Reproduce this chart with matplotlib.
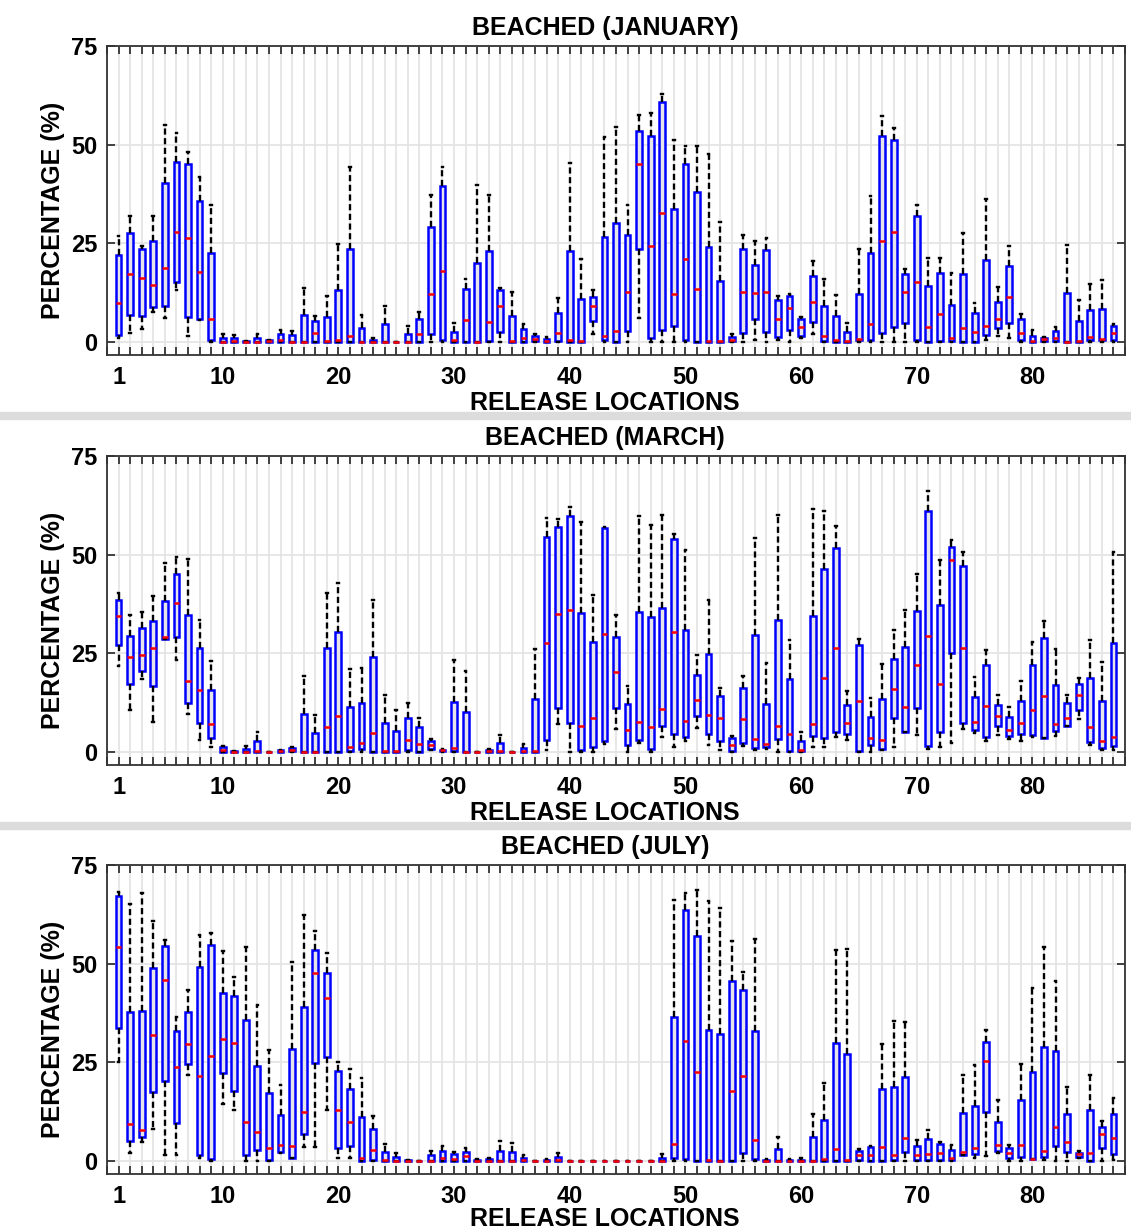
import matplotlib
matplotlib.use("Agg")
import matplotlib.pyplot as plt
from matplotlib.patches import Rectangle
from matplotlib.ticker import FixedLocator, MultipleLocator

plt.rcParams['font.family'] = ['Liberation Sans', 'DejaVu Sans']
plt.rcParams['font.weight'] = 'bold'

locations = list(range(1, 88))

# January: lower whisker, q1, median, q3, upper whisker (%)
jan_lo = [1.0, 2.3, 3.3, 7.5, 6.1, 13.1, 1.6, 5.5, 0, 0,
          0, 0, 0, 0, 0, 0, 0, 0, 0, 0,
          0, 0, 0, 0, 0, 0, 0, 0, 0, 0,
          0, 0, 0, 0, 0, 0, 0, 0, 0, 0,
          0, 1.9, 0, 0, 0, 6.1, 0, 0, 0, 0,
          0, 0, 0, 0, 0, 0.6, 0, 0.6, 0, 1.0,
          1.9, 0, 0, 0, 0, 0, 0, 0, 0, 0,
          0, 0, 0, 0, 0, 0.6, 1.6, 1.0, 0, 0,
          0, 0, 0, 0, 0, 0, 0]
jan_q1 = [1.7, 6.8, 6.5, 8.8, 9.1, 15.2, 6.3, 5.7, 0.4, 0,
          0, 0, 0, 0, 0, 0, 0, 0, 0, 0,
          0, 0, 0, 0, 0, 0, 0, 1.9, 0.5, 0,
          0, 0, 0.3, 2.6, 0, 0, 0.3, 0, 0.3, 0,
          0, 5.2, 0.6, 0, 2.9, 23.5, 1.1, 3.1, 4.0, 0.5,
          0, 0, 0, 0.2, 2.3, 5.7, 2.6, 1.2, 3.0, 1.4,
          5.0, 0.2, 0, 0, 0.5, 0.6, 2.3, 3.8, 4.7, 0.5,
          0, 0.3, 0.3, 0, 0, 1.7, 3.6, 4.8, 0.5, 0,
          0.3, 0.2, 0, 0, 0.6, 0.6, 0.4]
jan_med = [10.0, 17.2, 16.3, 14.4, 18.7, 27.8, 26.4, 17.8, 5.7, 0.1,
           0.2, 0.0, 0.1, 0.2, 0.4, 0.1, 0.0, 2.2, 0.3, 0.5,
           1.4, 0.1, 0.0, 0.0, 0.0, 0.1, 2.0, 12.2, 18.1, 0.4,
           5.5, 0.0, 5.0, 9.0, 0.3, 0.9, 0.7, 0.2, 2.2, 0.4,
           0.3, 9.0, 1.4, 2.9, 12.6, 45.1, 24.3, 32.6, 12.1, 20.9,
           13.3, 0.2, 0.3, 0.6, 12.6, 12.4, 12.6, 5.7, 8.5, 3.7,
           10.2, 1.5, 0.4, 0.2, 0.8, 4.6, 25.6, 27.8, 12.6, 15.3,
           3.8, 7.1, 1.1, 3.5, 2.6, 4.0, 5.8, 11.3, 2.4, 0.3,
           0.8, 1.0, 0.1, 0.3, 1.2, 0.8, 2.4]
jan_q3 = [22.1, 27.6, 23.6, 25.5, 40.2, 45.6, 45.2, 35.6, 22.6, 1.0,
          1.0, 0.2, 1.0, 0.4, 1.9, 1.7, 6.8, 5.4, 6.3, 13.1,
          23.5, 3.5, 0.6, 4.5, 0.0, 2.1, 5.7, 29.1, 39.6, 2.5,
          13.4, 19.9, 23.1, 13.1, 6.6, 3.2, 1.4, 0.8, 7.4, 23.0,
          10.8, 11.4, 26.7, 30.1, 27.2, 53.5, 52.1, 60.7, 33.8, 45.1,
          37.9, 24.0, 15.4, 1.2, 23.6, 19.6, 23.2, 10.7, 11.6, 5.8,
          16.6, 9.2, 6.5, 2.5, 12.2, 22.6, 52.1, 51.3, 17.1, 32.0,
          14.3, 17.5, 9.4, 17.1, 7.4, 20.8, 10.1, 19.3, 5.7, 1.6,
          1.0, 2.7, 12.4, 5.4, 8.0, 8.4, 4.1]
jan_hi = [26.8, 31.8, 24.2, 32.0, 55.1, 53.0, 48.1, 41.9, 34.8, 1.9,
          1.8, 0.3, 1.9, 0.5, 3.0, 2.9, 13.6, 6.5, 11.7, 24.9,
          44.4, 6.8, 0.9, 9.0, 0.0, 4.0, 7.5, 37.3, 44.4, 4.7,
          16.0, 39.9, 37.3, 13.6, 12.6, 4.6, 2.0, 1.3, 11.2, 45.4,
          21.0, 13.1, 51.9, 54.6, 34.6, 57.6, 57.9, 62.8, 51.3, 49.6,
          49.6, 47.7, 30.3, 1.9, 27.1, 25.5, 26.4, 11.7, 12.2, 6.3,
          20.6, 16.0, 12.0, 4.9, 23.6, 36.9, 57.3, 54.2, 18.6, 34.6,
          21.3, 21.3, 17.5, 27.6, 9.9, 36.2, 13.9, 24.4, 7.2, 3.0,
          1.2, 3.8, 24.5, 10.6, 14.6, 15.8, 4.6]

# March
mar_lo = [21.7, 10.6, 18.6, 7.6, 28.7, 23.2, 9.5, 3.0, 1.3, 0,
          0, 0, 0, 0, 0, 0, 0, 0, 0, 0,
          0, 0, 0, 0, 0, 0, 0, 0.4, 0, 0,
          0, 0, 0, 0, 0, 0, 0, 0.4, 7.2, 0,
          0, 0, 2.1, 5.9, 0, 2.4, 0, 3.8, 1.3, 2.8,
          6.1, 1.7, 0.4, 0, 1.4, 0.4, 0.8, 0, 0, 0,
          1.3, 1.3, 3.8, 3.1, 0, 0, 0.4, 1.3, 5.1, 4.2,
          0.7, 1.3, 2.4, 5.9, 4.8, 2.8, 4.4, 3.3, 2.8, 3.8,
          3.6, 4.0, 6.5, 8.4, 1.7, 0.4, 0.4]
mar_q1 = [27.0, 17.3, 20.4, 16.8, 28.7, 29.1, 12.5, 7.4, 3.6, 0,
          0, 0, 0, 0, 0, 0.2, 0, 0, 0, 0,
          0.3, 0.7, 0, 0, 0, 0.4, 0, 0.8, 0.2, 0.2,
          0, 0, 0, 0, 0, 0, 0, 3.0, 11.1, 7.3,
          0.4, 1.3, 2.7, 11.2, 1.7, 3.0, 0.8, 6.5, 4.6, 3.7,
          9.0, 4.5, 2.8, 0.2, 2.3, 1.1, 1.3, 3.3, 0.3, 0.2,
          4.0, 3.6, 5.1, 4.5, 0.2, 1.7, 0.8, 8.5, 5.1, 11.1,
          1.6, 5.1, 25.1, 7.3, 5.5, 3.8, 6.7, 4.0, 4.6, 4.3,
          3.6, 5.2, 6.5, 10.7, 2.5, 1.1, 1.4]
mar_med = [34.5, 24.1, 24.6, 26.4, 29.1, 37.8, 18.1, 15.6, 7.1, 0.4,
           0.1, 0.1, 0.3, 0, 0.25, 0.6, 0.1, 0.1, 6.3, 9.1,
           1.3, 2.4, 4.8, 0.3, 0.3, 3.0, 2.0, 1.8, 0.4, 1.1,
           0, 0.1, 0.2, 0.2, 0, 0.2, 0.3, 27.6, 35.0, 35.9,
           6.6, 8.5, 29.9, 20.2, 5.5, 7.5, 6.4, 11.0, 30.3, 7.9,
           13.2, 9.3, 8.6, 1.7, 8.3, 3.3, 1.9, 6.7, 4.5, 0.4,
           7.2, 18.8, 26.4, 7.3, 12.9, 3.5, 3.1, 16.0, 11.5, 22.0,
           29.3, 17.3, 48.7, 26.3, 7.5, 11.6, 9.2, 5.5, 7.3, 10.6,
           14.1, 7.0, 8.5, 14.4, 6.4, 2.8, 3.7]
mar_q3 = [38.5, 29.4, 31.3, 33.2, 38.3, 45.1, 34.7, 26.3, 15.7, 1.2,
          0.2, 0.8, 2.8, 0, 0.4, 1.0, 9.7, 4.8, 26.4, 30.4,
          11.3, 12.5, 24.1, 7.3, 5.4, 8.7, 6.3, 2.9, 0.6, 12.6,
          10.1, 0.1, 0.6, 2.3, 0, 1.0, 13.4, 54.6, 57.0, 59.7,
          35.1, 27.8, 56.8, 29.1, 12.2, 35.5, 34.3, 36.5, 53.9, 30.9,
          19.6, 24.9, 14.3, 3.6, 16.3, 29.6, 12.2, 33.4, 18.4, 2.7,
          34.5, 46.4, 51.8, 12.0, 27.0, 8.9, 13.5, 23.6, 26.7, 35.6,
          61.0, 37.2, 51.9, 47.1, 13.9, 22.0, 12.0, 8.9, 12.9, 22.1,
          28.9, 16.9, 12.4, 17.3, 18.8, 13.0, 27.7]
mar_hi = [40.3, 34.7, 35.5, 39.6, 47.8, 49.3, 48.8, 33.4, 23.0, 1.4,
          0.3, 1.5, 5.1, 0, 0.5, 1.3, 19.3, 9.3, 40.2, 42.7,
          21.1, 21.3, 38.4, 14.4, 10.7, 12.4, 8.6, 3.3, 0.8, 23.2,
          20.4, 0.1, 0.8, 4.4, 0, 1.9, 26.1, 59.4, 59.1, 62.2,
          58.3, 39.9, 56.9, 34.6, 16.8, 59.7, 57.4, 60.0, 55.3, 51.1,
          24.7, 38.4, 16.3, 4.0, 19.2, 54.3, 22.6, 60.1, 28.5, 5.1,
          61.5, 61.1, 57.2, 15.4, 28.7, 13.8, 22.2, 31.0, 36.1, 45.2,
          66.1, 48.7, 53.8, 50.6, 19.0, 25.8, 14.4, 11.3, 18.0, 27.9,
          33.3, 26.1, 14.4, 18.8, 28.5, 22.7, 50.8]

# July
jul_lo = [25.2, 1.9, 4.9, 8.0, 1.5, 1.5, 21.8, 0.8, 0, 14.4,
          12.9, 0, 0, 0, 1.9, 0.7, 3.6, 3.6, 12.9, 0.7,
          0.7, 0, 0, 0, 0, 0, 0, 0, 0, 0,
          0, 0, 0, 0, 0, 0, 0, 0, 0, 0,
          0, 0, 0, 0, 0, 0, 0, 0, 0, 0,
          0, 0, 0, 0, 0, 0, 0, 0, 0, 0,
          0, 0, 0, 0, 0, 0, 0, 0, 0, 0,
          0, 0, 0, 1.4, 0.7, 1.3, 2.1, 0, 0, 0.4,
          0.3, 0, 0, 0.8, 0, 0, 0.3]
jul_q1 = [33.8, 5.1, 6.0, 17.6, 20.2, 9.6, 24.5, 1.5, 0.4, 22.2,
          17.8, 1.4, 2.8, 0.3, 2.4, 0.8, 6.8, 24.9, 26.4, 3.2,
          3.8, 0, 0.3, 0, 0, 0, 0, 0, 0, 0.1,
          0.1, 0, 0, 0, 0, 0, 0, 0, 0, 0,
          0, 0, 0, 0, 0, 0, 0, 0, 0.8, 0.5,
          0, 0, 0, 0, 1.9, 0.4, 0, 0, 0, 0,
          0, 0, 0, 0, 0.3, 0, 0, 0.3, 2.4, 0.3,
          0.3, 0.3, 0.3, 1.4, 1.8, 12.5, 2.5, 0.8, 1.1, 0.4,
          1.1, 3.8, 2.3, 1.1, 0, 3.4, 1.7]
jul_med = [54.1, 9.4, 7.8, 32.0, 45.9, 23.7, 29.7, 21.5, 26.5, 30.8,
           30.0, 10.0, 7.3, 3.4, 4.1, 3.8, 12.5, 47.6, 41.4, 13.0,
           10.0, 0.8, 2.8, 0.3, 0.1, 0, 0, 0.1, 0.8, 0.6,
           1.3, 0.1, 0.1, 0, 0, 0.3, 0, 0.1, 0.3, 0,
           0, 0, 0, 0, 0, 0, 0, 0.1, 4.3, 30.4,
           22.6, 0.3, 0, 17.8, 21.5, 5.3, 0.1, 0, 0.1, 0.1,
           0, 0.6, 3.1, 0.3, 1.4, 1.4, 3.6, 1.4, 5.9, 1.4,
           1.8, 2.1, 0.8, 2.3, 3.2, 25.4, 4.0, 2.1, 4.1, 0.6,
           2.6, 8.5, 4.8, 1.8, 1.9, 6.8, 5.7]
jul_q3 = [67.1, 37.8, 38.1, 48.8, 54.6, 33.0, 37.8, 49.1, 54.8, 42.6,
          41.8, 35.6, 24.0, 17.1, 11.7, 28.4, 38.9, 53.5, 47.7, 22.7,
          18.2, 11.2, 8.2, 2.3, 1.1, 0.2, 0, 1.4, 2.6, 1.7,
          2.4, 0.3, 0.4, 2.5, 2.3, 0.8, 0, 0.3, 1.1, 0,
          0, 0, 0, 0, 0, 0, 0, 0.8, 36.6, 63.6,
          57.0, 33.2, 32.1, 45.5, 43.3, 33.0, 0.3, 3.0, 0.3, 0.3,
          6.0, 10.4, 29.8, 27.1, 2.6, 3.5, 18.3, 18.7, 21.2, 3.8,
          5.5, 4.2, 2.7, 12.2, 13.9, 30.2, 10.0, 3.4, 15.5, 22.5,
          29.0, 27.8, 11.9, 2.1, 12.8, 8.5, 11.9]
jul_hi = [68.2, 65.1, 67.8, 60.9, 56.0, 36.6, 43.3, 57.3, 57.7, 53.3,
          46.5, 54.1, 39.4, 28.1, 19.2, 50.3, 62.3, 58.4, 52.6, 25.0,
          23.3, 21.1, 11.4, 4.3, 1.9, 0.3, 0, 2.6, 3.8, 2.4,
          3.3, 0.4, 0.7, 5.1, 4.6, 1.4, 0, 0.4, 2.1, 0,
          0, 0, 0, 0, 0, 0, 0, 1.8, 66.1, 67.8,
          68.7, 66.0, 64.0, 55.7, 47.8, 56.3, 0.4, 6.0, 0.4, 0.7,
          11.9, 19.7, 53.5, 53.8, 3.0, 3.8, 29.6, 35.4, 35.3, 5.2,
          7.9, 4.8, 4.1, 21.8, 24.4, 33.2, 15.5, 4.1, 24.6, 43.9,
          54.3, 45.5, 18.8, 2.5, 21.7, 10.2, 15.9]

titles = ["BEACHED (JANUARY)", "BEACHED (MARCH)", "BEACHED (JULY)"]
series = [(jan_lo, jan_q1, jan_med, jan_q3, jan_hi),
          (mar_lo, mar_q1, mar_med, mar_q3, mar_hi),
          (jul_lo, jul_q1, jul_med, jul_q3, jul_hi)]
xtick_pos = [1, 10, 20, 30, 40, 50, 60, 70, 80]
ytick_pos = [0, 25, 50, 75]

W, H = 1131, 1230
fig = plt.figure(figsize=(W / 100, H / 100), dpi=100)
fig.patch.set_facecolor("white")

# grey separators between the three stacked figures
for y0, y1 in [(412, 419), (822, 829)]:
    fig.patches.append(Rectangle((0, 1 - y1 / H), 1, (y1 - y0) / H,
                                 transform=fig.transFigure,
                                 color="#dcdcdc", zorder=0))

panel_tops = [46, 456, 865]
ax_left, ax_right = 107, 1125
ax_h = 309

for top, title, (lo, q1, med, q3, hi) in zip(panel_tops, titles, series):
    ax = fig.add_axes([ax_left / W, 1 - (top + ax_h) / H,
                       (ax_right - ax_left) / W, ax_h / H])
    stats = []
    for i in range(len(locations)):
        stats.append({"whislo": lo[i], "q1": q1[i], "med": med[i],
                      "q3": q3[i], "whishi": hi[i]})
    ax.bxp(stats, positions=locations, widths=0.5, patch_artist=True,
           showfliers=False, capwidths=0.15,
           boxprops=dict(facecolor="#e6e6ea", edgecolor="blue", linewidth=1.8),
           medianprops=dict(color="red", linewidth=1.8),
           whiskerprops=dict(color="black", linewidth=1.7,
                             linestyle=(0, (2.6, 1.5))),
           capprops=dict(color="black", linewidth=1.7))

    ax.set_xlim(0, 88)
    ax.set_ylim(-3.3, 75)
    ax.xaxis.set_major_locator(FixedLocator(xtick_pos))
    ax.xaxis.set_minor_locator(MultipleLocator(1))
    ax.set_xticklabels([str(v) for v in xtick_pos])
    ax.set_yticks(ytick_pos)
    ax.set_axisbelow(True)
    ax.grid(True, which="both", axis="x", color="#e3e3e3", linewidth=1.2)
    ax.grid(True, which="major", axis="y", color="#e3e3e3", linewidth=1.2)
    ax.tick_params(which="both", direction="in", top=True, right=True,
                   length=6, width=1.3, color="#333333")
    ax.tick_params(axis="x", which="major", labelsize=17, pad=8)
    ax.tick_params(axis="y", which="major", labelsize=17, pad=7)
    for lab in ax.get_xticklabels() + ax.get_yticklabels():
        lab.set_fontweight("bold")
    for sp in ax.spines.values():
        sp.set_color("#333333")
        sp.set_linewidth(1.3)

    ax.set_ylabel("PERCENTAGE (%)", fontsize=18, fontweight="bold")
    ax.yaxis.set_label_coords(-0.041, 0.468)
    fig.text(0.535, 1 - (top - 18) / H, title, ha="center", va="center",
             fontsize=18, fontweight="bold")
    fig.text(0.535, 1 - min(top + 357, 1219) / H, "RELEASE LOCATIONS",
             ha="center", va="center", fontsize=18, fontweight="bold")

fig.savefig("out.png", dpi=100)
